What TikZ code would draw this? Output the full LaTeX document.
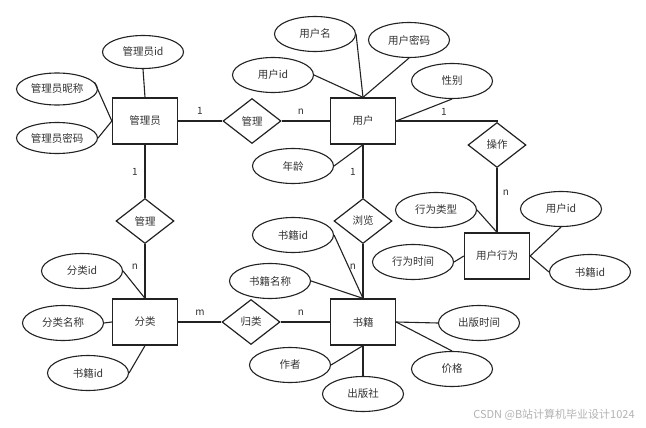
\documentclass[tikz,border=0pt]{standalone}
\usepackage{fontspec}
\setmainfont{Noto Sans CJK SC}
\usetikzlibrary{shapes.geometric}
\definecolor{ln}{HTML}{222222}
\definecolor{tx}{HTML}{333333}
\begin{document}
\begin{tikzpicture}[x=1pt,y=-1pt,
  every node/.style={font=\fontsize{10.5}{12}\selectfont, text=tx},
  ent/.style={draw=ln, line width=1.3pt, rectangle, minimum width=65pt, minimum height=46pt, inner sep=0pt},
  rel/.style={draw=ln, line width=1.2pt, diamond, minimum width=58pt, minimum height=45pt, inner sep=0pt},
  attr/.style={draw=ln, line width=1.1pt, ellipse, minimum width=81pt, minimum height=35pt, inner sep=0pt},
  card/.style={font=\fontsize{10}{12}\selectfont, inner sep=0pt},
  conn/.style={draw=ln, line width=1.1pt}]
\useasboundingbox (0,0) rectangle (646,428);
% entities
\node[ent] (gly) at (145,121) {管理员};
\node[ent] (yh) at (363,121) {用户};
\node[ent] (yhxw) at (497,256) {用户行为};
\node[ent] (fl) at (145,322) {分类};
\node[ent] (sj) at (363,322) {书籍};
% relationships
\node[rel] (gl1) at (252,121) {管理};
\node[rel] (cz) at (497,145) {操作};
\node[rel] (gl2) at (145,221) {管理};
\node[rel] (gle) at (251,322) {归类};
\node[rel] (ll) at (363,221) {浏览};
% attributes
\node[attr, minimum height=33pt] (glyid) at (143,52) {管理员id};
\node[attr, minimum height=32pt] (glync) at (57,89) {管理员昵称};
\node[attr, minimum height=31pt] (glymm) at (57,138) {管理员密码};
\node[attr] (yhm) at (315,34) {用户名};
\node[attr] (yhmm) at (409,40) {用户密码};
\node[attr] (yhid) at (273,75) {用户id};
\node[attr] (xb) at (452,81) {性别};
\node[attr] (nl) at (293,166) {年龄};
\node[attr] (xwlx) at (436,210) {行为类型};
\node[attr] (xwyhid) at (561,209) {用户id};
\node[attr] (xwsj) at (413,262) {行为时间};
\node[attr] (xwsjid) at (590,272) {书籍id};
\node[attr] (flid) at (82,271) {分类id};
\node[attr] (flmc) at (63,323) {分类名称};
\node[attr] (flsjid) at (88,373) {书籍id};
\node[attr] (sjid) at (293,235) {书籍id};
\node[attr] (sjmc) at (270,281) {书籍名称};
\node[attr] (zz) at (290,365) {作者};
\node[attr] (cbs) at (363,394) {出版社};
\node[attr] (cbsj) at (479,323) {出版时间};
\node[attr] (jg) at (452,369) {价格};
% relationship connectors
\draw[conn] (gly.east) -- (gl1.west);
\draw[conn] (gl1.east) -- (yh.west);
\draw[conn] (yh.east) -| (cz.north);
\draw[conn] (cz.south) -- (yhxw.north);
\draw[conn] (gly.south) -- (gl2.north);
\draw[conn] (gl2.south) -- (fl.north);
\draw[conn] (fl.east) -- (gle.west);
\draw[conn] (gle.east) -- (sj.west);
\draw[conn] (yh.south) -- (ll.north);
\draw[conn] (ll.south) -- (sj.north);
% attribute connectors
\draw[conn] (glyid.south) -- (gly.north);
\draw[conn] (glync.10) -- (gly.west);
\draw[conn] (glymm.east) -- (gly.west);
\draw[conn] (yhm.east) -- (yh.north);
\draw[conn] (yhmm.south) -- (yh.north);
\draw[conn] (yhid.east) -- (yh.north);
\draw[conn] (xb.south) -- (yh.east);
\draw[conn] (nl.east) -- (yh.south);
\draw[conn] (xwlx.east) -- (yhxw.north);
\draw[conn] (xwyhid.south) -- (yhxw.east);
\draw[conn] (xwsjid.west) -- (yhxw.east);
\draw[conn] (xwsj.east) -- (yhxw.west);
\draw[conn] (flid.east) -- (fl.north);
\draw[conn] (flmc.east) -- (fl.west);
\draw[conn] (flsjid.east) -- (fl.south);
\draw[conn] (sjid.east) -- (sj.north);
\draw[conn] (sjmc.east) -- (sj.north);
\draw[conn] (zz.east) -- (sj.south);
\draw[conn] (cbs.north) -- (sj.south);
\draw[conn] (cbsj.west) -- (sj.east);
\draw[conn] (jg.north) -- (sj.east);
% cardinalities
\node[card] (c1) at (200,111) {1};
\node[card] (c2) at (301,112) {n};
\node[card] (c3) at (444,112) {1};
\node[card] (c4) at (506,193) {n};
\node[card] (c5) at (135,172) {1};
\node[card] (c6) at (135,267) {n};
\node[card] (c7) at (353,172) {1};
\node[card] (c8) at (353,267) {n};
\node[card] (c9) at (200,313) {m};
\node[card] (c10) at (301,313) {n};
% watermark
\node[font=\fontsize{11}{13}\selectfont, text=black!30, inner sep=0pt] (wm) at (554,415) {CSDN @B站计算机毕业设计1024};
\end{tikzpicture}
\end{document}
